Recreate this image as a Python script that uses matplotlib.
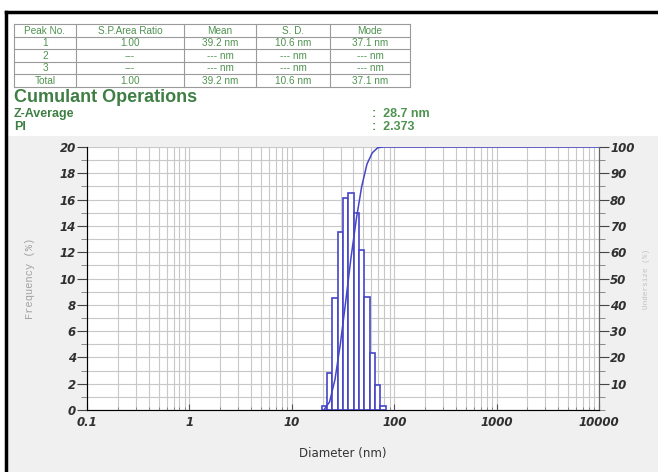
import numpy as np
import matplotlib
matplotlib.use("Agg")
import matplotlib.pyplot as plt
from matplotlib.ticker import FixedLocator, MultipleLocator, NullFormatter

# size distribution (bin centre diameter in nm, frequency in %)
sizes = [20.8, 23.4, 26.4, 29.8, 33.6, 37.8, 42.7, 48.1, 54.2, 61.1, 68.9, 77.6]
freq = [0.3, 2.8, 8.5, 13.5, 16.1, 16.5, 15.0, 12.2, 8.6, 4.3, 1.9, 0.3]

table_cols = ["Peak No.", "S.P.Area Ratio", "Mean", "S. D.", "Mode"]
table_rows = [
    ["1", "1.00", "39.2 nm", "10.6 nm", "37.1 nm"],
    ["2", "---", "--- nm", "--- nm", "--- nm"],
    ["3", "---", "--- nm", "--- nm", "--- nm"],
    ["Total", "1.00", "39.2 nm", "10.6 nm", "37.1 nm"],
]
z_average = "28.7 nm"
pi_value = "2.373"
xticks = [0.1, 1, 10, 100, 1000, 10000]

W, H = 658, 472
green = "#4f9350"
dgreen = "#3f7f45"
blue = "#4545c8"

fig = plt.figure(figsize=(W / 100, H / 100), dpi=100)
fig.patch.set_facecolor("white")

# background layer in pixel coordinates
bg = fig.add_axes([0, 0, 1, 1])
bg.set_xlim(0, W)
bg.set_ylim(H, 0)
bg.axis("off")
bg.set_zorder(0)
bg.add_patch(plt.Rectangle((8, 136), W - 8, H - 136, color="#f0f0f0", lw=0))
bg.plot([6, W], [12, 12], color="black", lw=2.5)
bg.plot([6, 6], [12, H], color="black", lw=2.5)

# results table
col_x = [14, 76, 184, 256, 330, 410]
row_y = [24, 36.5, 49, 61.5, 74, 86.5]
for x in col_x:
    bg.plot([x, x], [row_y[0], row_y[-1]], color="#9a9a9a", lw=0.8)
for y in row_y:
    bg.plot([col_x[0], col_x[-1]], [y, y], color="#9a9a9a", lw=0.8)
for r, row in enumerate([table_cols] + table_rows):
    for c, txt in enumerate(row):
        cx = (col_x[c] + col_x[c + 1]) / 2
        cy = (row_y[r] + row_y[r + 1]) / 2 + 0.5
        bg.text(cx, cy, txt, ha="center", va="center", fontsize=7.2,
                color=green, family="Liberation Sans")

bg.text(14, 97, "Cumulant Operations", fontsize=13, fontweight="bold",
        color=dgreen, va="center", family="Liberation Sans")
bg.text(14, 114, "Z-Average", fontsize=9, fontweight="bold", color=dgreen,
        va="center", family="Liberation Sans")
bg.text(14, 126.5, "PI", fontsize=9, fontweight="bold", color=dgreen,
        va="center", family="Liberation Sans")
bg.text(372, 114, ":  " + z_average, fontsize=9, fontweight="bold", color=green,
        va="center", family="Liberation Sans")
bg.text(372, 127, ":  " + pi_value, fontsize=9, fontweight="bold", color=green,
        va="center", family="Liberation Sans")

# main plot
ax = fig.add_axes([87 / W, 1 - 410 / H, (599 - 87) / W, (410 - 147) / H])
ax.set_zorder(1)
ax.set_facecolor("white")
ax.set_xscale("log")
ax.set_xlim(0.1, 10000)
ax.set_ylim(0, 20)

sizes_a = np.array(sizes)
step = np.log10(sizes_a[1] / sizes_a[0])
left = sizes_a / 10 ** (step / 2)
right = sizes_a * 10 ** (step / 2)
ax.bar(left, np.array(freq), width=right - left, align="edge",
       facecolor="white", edgecolor=blue, lw=1.2, zorder=3)

ax.grid(True, which="both", axis="x", color="#c8c8c8", lw=0.8)
ax.yaxis.set_minor_locator(MultipleLocator(1))
ax.grid(True, which="both", axis="y", color="#c8c8c8", lw=0.8)
ax.set_axisbelow(True)

ax.xaxis.set_major_locator(FixedLocator(xticks))
ax.set_xticklabels(["0.1", "1", "10", "100", "1000", "10000"])
ax.xaxis.set_minor_formatter(NullFormatter())
ax.set_yticks(range(0, 21, 2))
for lab in ax.get_xticklabels() + ax.get_yticklabels():
    lab.set_fontstyle("italic")
    lab.set_fontweight("bold")
    lab.set_fontsize(8.5)
    lab.set_color("#303030")
ax.tick_params(axis="y", which="major", length=7, color="#444444", pad=1)
ax.tick_params(axis="y", which="minor", length=4, color="#777777")
ax.tick_params(axis="x", which="major", direction="in", length=4, color="#555555", pad=4)
ax.tick_params(axis="x", which="minor", direction="in", length=2.5, color="#777777")
for side in ["left", "bottom", "right"]:
    ax.spines[side].set_color("#666666")
    ax.spines[side].set_linewidth(0.8)
ax.spines["top"].set_visible(False)

ax.set_xlabel("Diameter (nm)", fontsize=8.5, color="#333333", labelpad=13)
ax.set_ylabel("Frequency (%)", fontsize=7.5, color="#a0a0a0",
              family="Liberation Mono", labelpad=18)

# cumulative undersize on right axis
ax2 = ax.twinx()
ax2.set_ylim(0, 100)
ax2.set_yticks(range(10, 101, 10))
ax2.yaxis.set_minor_locator(MultipleLocator(5))
cum = np.cumsum(freq)
ax2.plot(np.append(sizes_a, 10000), np.append(cum, 100), color=blue, lw=1.1, zorder=4)
for lab in ax2.get_yticklabels():
    lab.set_fontstyle("italic")
    lab.set_fontweight("bold")
    lab.set_fontsize(8.5)
    lab.set_color("#303030")
ax2.tick_params(axis="y", which="major", length=7, color="#444444", pad=1)
ax2.tick_params(axis="y", which="minor", length=4, color="#777777")
ax2.spines["top"].set_visible(False)
ax2.spines["right"].set_color("#666666")
ax2.spines["right"].set_linewidth(0.8)
ax2.set_ylabel("Undersize (%)", fontsize=5.5, color="#c0c0c0",
               family="Liberation Mono", labelpad=6)

fig.savefig("out.png", dpi=100)
